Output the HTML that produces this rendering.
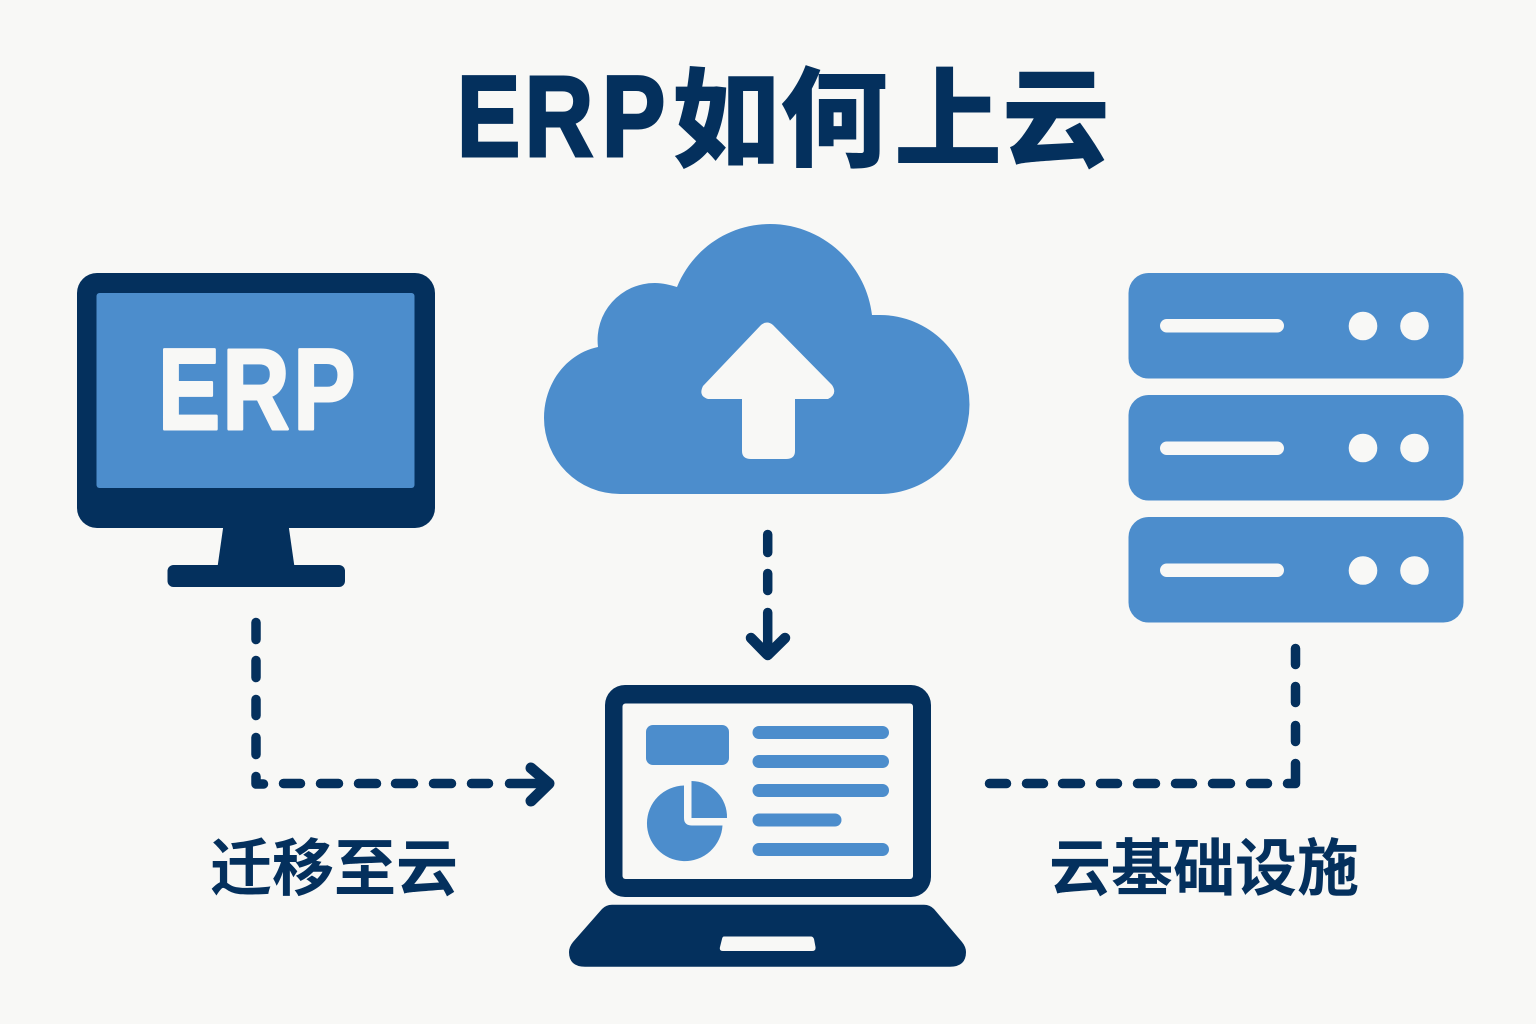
<!DOCTYPE html>
<html lang="zh">
<head>
<meta charset="utf-8">
<title>ERP如何上云</title>
<style>
html,body{margin:0;padding:0;background:#f8f8f6;}
svg{display:block;}
text{font-family:"Liberation Sans","Noto Sans CJK SC",sans-serif;font-weight:700;}
</style>
</head>
<body>
<svg width="1536" height="1024" viewBox="0 0 1536 1024" xmlns="http://www.w3.org/2000/svg">
<rect width="1536" height="1024" fill="#f8f8f6"/>

<!-- Title -->
<text transform="scale(.83,1)" x="550.3 632 725" y="156.2" font-size="115" fill="#04305d" stroke="#04305d" stroke-width="3">ERP</text>
<text x="672 780 894 1002" y="158" font-size="108" fill="#04305d" style="font-family:'Noto Sans CJK SC',sans-serif;font-weight:900">如何上云</text>

<!-- Monitor -->
<rect x="77" y="273" width="358" height="255" rx="20" fill="#04305d"/>
<rect x="96.5" y="293" width="318" height="195" rx="3" fill="#4c8dcc"/>
<path d="M223.5 525 H288.5 L294.5 567 H217.5 Z" fill="#04305d"/>
<rect x="167.5" y="565" width="177.5" height="22" rx="6" fill="#04305d"/>
<text transform="scale(.81,1)" x="195 274.5 362" y="429" font-size="115" fill="#f8f8f6" stroke="#f8f8f6" stroke-width="3" stroke-linejoin="round">ERP</text>

<!-- Cloud -->
<path d="M620 494 A76 76 0 0 1 544 418 C544 382 568 353 598 347 A57 57 0 0 1 655 283 C663 283 670 285 677 287 C692 250 728 224 770 224 C822 224 866 264 872 315 L880 315 A89.5 89.5 0 0 1 969.5 404.5 A89.5 89.5 0 0 1 880 494 Z" fill="#4c8dcc"/>
<path d="M761 325 Q767 320 773 325 L832 385 Q838 394 828 399 L795 399 L795 451 Q795 459 786 459 L751 459 Q742 459 742 451 L742 399 L708 399 Q698 396 703 386 Z" fill="#f8f8f6"/>

<!-- Server -->
<rect x="1128.5" y="273" width="335" height="105.5" rx="20" fill="#4c8dcc"/>
<rect x="1160" y="319" width="124" height="13.5" rx="6.7" fill="#f8f8f6"/>
<circle cx="1363" cy="326" r="14.3" fill="#f8f8f6"/>
<circle cx="1414.5" cy="326" r="14.3" fill="#f8f8f6"/>
<rect x="1128.5" y="395" width="335" height="105.5" rx="20" fill="#4c8dcc"/>
<rect x="1160" y="441.5" width="124" height="13.5" rx="6.7" fill="#f8f8f6"/>
<circle cx="1363" cy="448" r="14.3" fill="#f8f8f6"/>
<circle cx="1414.5" cy="448" r="14.3" fill="#f8f8f6"/>
<rect x="1128.5" y="517" width="335" height="105.5" rx="20" fill="#4c8dcc"/>
<rect x="1160" y="563.5" width="124" height="13.5" rx="6.7" fill="#f8f8f6"/>
<circle cx="1363" cy="570.5" r="14.3" fill="#f8f8f6"/>
<circle cx="1414.5" cy="570.5" r="14.3" fill="#f8f8f6"/>

<!-- Connectors -->
<g fill="none" stroke="#04305d" stroke-width="9.5" stroke-linecap="round" stroke-linejoin="round">
<!-- left -->
<path d="M256 622.5 V639.5 M256 660.5 V677.5 M256 699.5 V715.5 M256 737.5 V754.5"/>
<path d="M256 776.5 V784 H263.5"/>
<path d="M283.5 783.5 H300.5 M320.5 783.5 H338.5 M358.5 783.5 H376.5 M395.5 783.5 H413.5 M433.5 783.5 H451.5 M471.5 783.5 H488.5 M509.5 783.5 H548"/>
<path d="M531 768 L549 783.5 L531 801" stroke-width="11"/>
<!-- centre -->
<path d="M767.7 534.5 V552.5 M767.7 573.5 V590.5 M767.7 612.5 V655"/>
<path d="M751 638 L767.7 655 L785 638" stroke-width="10.5"/>
<!-- right -->
<path d="M1295.5 648.5 V664.5 M1295.5 686.5 V702.5 M1295.5 725.5 V741.5"/>
<path d="M1295.5 763.5 V783.5 H1287.5"/>
<path d="M989.5 783.5 H1006.5 M1026.5 783.5 H1043.5 M1062.5 783.5 H1080.5 M1100.5 783.5 H1117.5 M1137.5 783.5 H1155.5 M1175.5 783.5 H1192.5 M1212.5 783.5 H1230.5 M1250.5 783.5 H1267.5"/>
</g>

<!-- Laptop -->
<rect x="605" y="685" width="326" height="212" rx="20" fill="#04305d"/>
<rect x="622.5" y="703.5" width="290.5" height="175.5" rx="3" fill="#f8f8f6"/>
<rect x="646" y="725" width="83" height="40" rx="7" fill="#4c8dcc"/>
<rect x="752.5" y="726" width="136.5" height="13" rx="6.5" fill="#4c8dcc"/>
<rect x="752.5" y="755" width="136.5" height="13" rx="6.5" fill="#4c8dcc"/>
<rect x="752.5" y="784" width="136.5" height="13" rx="6.5" fill="#4c8dcc"/>
<rect x="752.5" y="813.5" width="89" height="13" rx="6.5" fill="#4c8dcc"/>
<rect x="752.5" y="843" width="136.5" height="13" rx="6.5" fill="#4c8dcc"/>
<path d="M684 785.5 V818 Q684 825.5 692 825.5 H722.5 A37.8 37.8 0 1 1 684 785.5 Z" fill="#4c8dcc"/>
<path d="M691.5 781 A36 36 0 0 1 727 818 H691.5 Z" fill="#4c8dcc"/>
<path d="M612 904.7 H924 Q930 904.7 934 909 L962 942 Q966 947 966 952 Q966 966.7 950 966.7 H585 Q569 966.7 569 952 Q569 947 573 942 L602 909 Q606 904.7 612 904.7 Z" fill="#04305d"/>
<path d="M724 936.5 H811 Q813 936.5 814 939 L815.5 947 Q816 951 812 951 H723 Q719 951 720 947 L722 939 Q722.5 936.5 724 936.5 Z" fill="#f8f8f6"/>

<!-- Labels -->
<text x="210" y="890" font-size="62" fill="#04305d" style="font-family:'Noto Sans CJK SC',sans-serif;font-weight:700">迁移至云</text>
<text x="1049" y="890" font-size="62" fill="#04305d" style="font-family:'Noto Sans CJK SC',sans-serif;font-weight:700">云基础设施</text>
</svg>
</body>
</html>
